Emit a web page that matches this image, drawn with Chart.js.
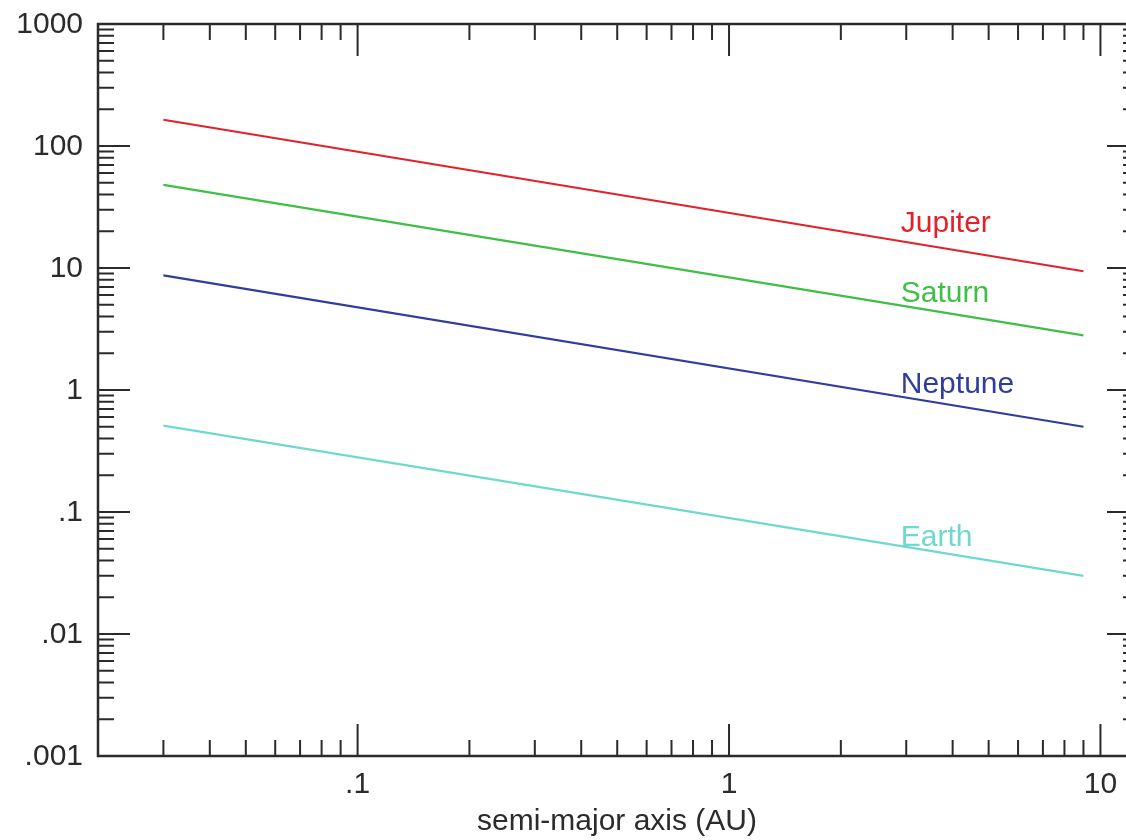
<!DOCTYPE html>
<html>
<head>
<meta charset="utf-8">
<script src="https://cdn.jsdelivr.net/npm/chart.js@4/dist/chart.umd.min.js"></script>
<style>
  html, body { margin: 0; padding: 0; background: #fff; overflow: hidden; }
  #wrap { width: 1160px; height: 840px; }
</style>
</head>
<body>
<div id="wrap"><canvas id="chart" width="1160" height="840"></canvas></div>
<script>
// semi-major axis (AU) at the two ends of each line
const axisAU = [0.03, 9];
const jupiter = [164, 9.4];
const saturn = [48, 2.8];
const neptune = [8.7, 0.5];
const earth = [0.51, 0.03];

const planetNames = ["Jupiter", "Saturn", "Neptune", "Earth"];
const planetColors = ["#e3212b", "#3fbf45", "#2f3d9c", "#6fd8cf"];
const labelX = [2.9, 2.9, 2.9, 2.9];
const labelY = [23, 6.1, 1.1, 0.061];

const yMajor = [1000, 100, 10, 1, 0.1, 0.01, 0.001];
const yMajorText = ["1000", "100", "10", "1", ".1", ".01", ".001"];
const xMajor = [0.1, 1, 10];
const xMajorText = [".1", "1", "10"];
const xTitle = "semi-major axis (AU)";

const font = "30px 'Liberation Sans', Arial, sans-serif";
const ink = "#2b2b2b";

const minorsBetween = (lo, hi) => {
  const out = [];
  for (let p = Math.floor(Math.log10(lo)); p <= Math.ceil(Math.log10(hi)); p++) {
    for (let m = 1; m <= 9; m++) {
      const v = m * Math.pow(10, p);
      if (v >= lo * 0.999 && v <= hi * 1.001) out.push(v);
    }
  }
  return out;
};

const frame = {
  id: "frame",
  afterDraw(chart) {
    const { ctx, chartArea: a, scales: { x, y } } = chart;
    ctx.save();
    ctx.strokeStyle = ink;
    ctx.lineWidth = 2.5;
    ctx.strokeRect(a.left, a.top, a.right - a.left, a.bottom - a.top);
    ctx.lineWidth = 2;

    minorsBetween(y.min, y.max).forEach((v) => {
      const py = y.getPixelForValue(v);
      const len = yMajor.some((m) => Math.abs(m - v) / m < 1e-6) ? 32 : 16;
      ctx.beginPath();
      ctx.moveTo(a.left, py); ctx.lineTo(a.left + len, py);
      ctx.moveTo(a.right, py); ctx.lineTo(a.right - len, py);
      ctx.stroke();
    });
    minorsBetween(x.min, x.max).forEach((v) => {
      const px = x.getPixelForValue(v);
      const len = xMajor.some((m) => Math.abs(m - v) / m < 1e-6) ? 32 : 16;
      ctx.beginPath();
      ctx.moveTo(px, a.bottom); ctx.lineTo(px, a.bottom - len);
      ctx.moveTo(px, a.top); ctx.lineTo(px, a.top + len);
      ctx.stroke();
    });

    ctx.fillStyle = ink;
    ctx.font = font;
    ctx.textAlign = "right";
    ctx.textBaseline = "middle";
    yMajor.forEach((v, i) => ctx.fillText(yMajorText[i], a.left - 15, y.getPixelForValue(v) + 1));
    ctx.textAlign = "center";
    ctx.textBaseline = "top";
    xMajor.forEach((v, i) => ctx.fillText(xMajorText[i], x.getPixelForValue(v), a.bottom + 14));
    ctx.fillText(xTitle, 617, 807);

    ctx.textAlign = "left";
    ctx.textBaseline = "middle";
    planetNames.forEach((name, i) => {
      ctx.fillStyle = planetColors[i];
      ctx.fillText(name, x.getPixelForValue(labelX[i]), y.getPixelForValue(labelY[i]));
    });
    ctx.restore();
  }
};

const series = [jupiter, saturn, neptune, earth];

new Chart(document.getElementById("chart"), {
  type: "line",
  data: {
    datasets: series.map((vals, i) => ({
      label: planetNames[i],
      data: axisAU.map((a, j) => ({ x: a, y: vals[j] })),
      borderColor: planetColors[i],
      borderWidth: 2.2,
      pointRadius: 0,
      tension: 0
    }))
  },
  options: {
    responsive: false,
    animation: false,
    layout: { padding: { left: 98, top: 24, right: 21, bottom: 84 } },
    plugins: { legend: { display: false }, tooltip: { enabled: false } },
    scales: {
      x: { type: "logarithmic", min: 0.02, max: 12.7, display: false },
      y: { type: "logarithmic", min: 0.001, max: 1000, display: false }
    }
  },
  plugins: [frame]
});
</script>
</body>
</html>
